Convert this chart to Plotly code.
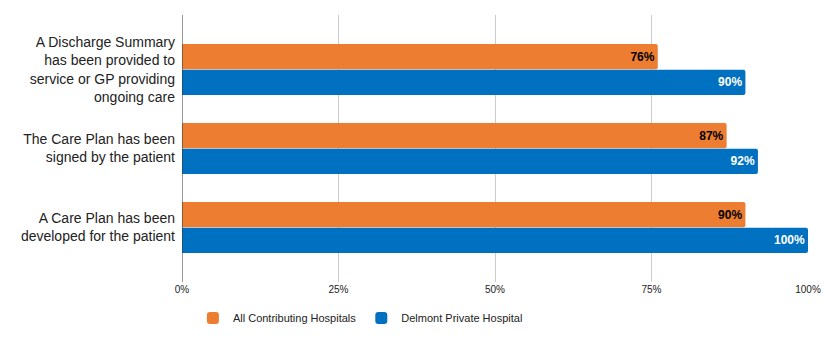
import plotly.graph_objects as go

categories = [
    "A Discharge Summary<br>has been provided to<br>service or GP providing<br>ongoing care",
    "The Care Plan has been<br>signed by the patient",
    "A Care Plan has been<br>developed for the patient",
]
series_names = ["All Contributing Hospitals", "Delmont Private Hospital"]
all_hospitals = [76, 87, 90]
delmont = [90, 92, 100]
colors = ["#ED7D31", "#0070C0"]
text_colors = ["#000000", "#FFFFFF"]
tick_vals = [0, 25, 50, 75, 100]
tick_text = ["0%", "25%", "50%", "75%", "100%"]

FONT = "Liberation Sans"

fig = go.Figure()
for name, vals, col, tcol in zip(series_names, [all_hospitals, delmont], colors, text_colors):
    fig.add_trace(go.Bar(
        y=categories, x=vals, name=name, orientation="h",
        marker=dict(color=col, line=dict(width=0)),
        text=[f"{v}%" for v in vals], textposition="inside",
        insidetextanchor="end",
        textfont=dict(family=FONT, size=12, color=tcol, weight="bold"),
        cliponaxis=False,
    ))

fig.update_layout(
    width=825, height=342,
    margin=dict(l=182, r=17, t=15, b=60, autoexpand=False),
    barmode="group", bargap=0.35, bargroupgap=0.02,
    barcornerradius=2,
    plot_bgcolor="white", paper_bgcolor="white",
    font=dict(family=FONT, color="#222222"),
    uniformtext=dict(mode=False),
    xaxis=dict(range=[0, 100], tickvals=tick_vals, ticktext=tick_text,
               showgrid=True, gridcolor="#CCCCCC", gridwidth=1,
               zeroline=False, showline=False, automargin=False,
               tickfont=dict(family=FONT, size=10, color="#222222"), ticks="", ticklen=0),
    yaxis=dict(autorange=False, range=[2.69, -0.69], type="category",
               tickfont=dict(family=FONT, size=14, color="#222222"),
               showgrid=False, zeroline=False, showline=False, ticks="",
               automargin=False, ticklabelstandoff=6),
    legend=dict(orientation="h", x=0.285, xanchor="center", y=-0.135, yanchor="middle",
                font=dict(family=FONT, size=11, color="#222222"), traceorder="normal",
                itemwidth=30),
)
fig.add_shape(type="line", xref="x", yref="paper", x0=0, x1=0, y0=0, y1=1,
              line=dict(color="#333333", width=1))
fig.write_html("out.html")
